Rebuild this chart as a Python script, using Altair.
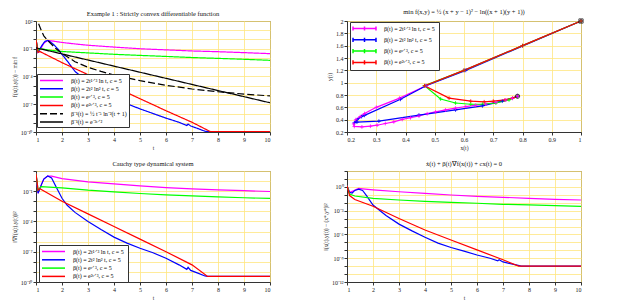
import altair as alt
import pandas as pd

FONT = "Liberation Serif"
GRID = "#ffe680"
FRAME = "#333333"

# ---------------- labels / colours ----------------
BETA_LABELS = [
    "β(t) = 2t¹ᐟ³ ln t,  c = 5",
    "β(t) = 2t² ln² t,  c = 5",
    "β(t) = eᵗᐟ³,  c = 5",
    "β(t) = e²ᵗᐟ³,  c = 5",
]
BETA_COLORS = ["#ff00ff", "#0000ff", "#00ff00", "#ff0000"]
REF_LABELS = ["β⁻¹(t) = ½ t⁻⁵ ln⁻²(t + 1)", "β⁻¹(t) = e⁻³ᵗᐟ²"]
REF_COLORS = ["#000000", "#000000"]

TITLES = [
    "Example 1 :  Strictly convex differentiable function",
    "min f(x,y) = ½ (x + y − 1)² − ln((x + 1)(y + 1))",
    "Cauchy type dynamical system",
    "ẋ(t) + β(t)∇f(x(t)) + cx(t) = 0",
]
YTITLES = ["f(x(t),y(t)) − min f", "y(t)", "‖∇f(x(t),y(t))‖²", "‖(x(t),y(t)) − (x*,y*)‖²"]

T_TICKS = [1, 2, 3, 4, 5, 6, 7, 8, 9, 10]
X2_TICKS = [0.2, 0.3, 0.4, 0.5, 0.6, 0.7, 0.8, 0.9, 1.0]
Y2_TICKS = [0.2, 0.4, 0.6, 0.8, 1.0, 1.2, 1.4, 1.6, 1.8, 2.0]

# ---------------- panel 1 : f - min f (log10 exponents) ----------------
p1_m_t = [1.0, 1.08, 1.2, 1.3, 1.45, 1.6, 2, 2.5, 3, 4, 5, 6, 7, 8, 9, 10]
p1_m_e = [0.0, -1.35, -0.9, -0.4, -0.1, -0.15, -0.32, -0.48, -0.62, -0.82, -1.0, -1.12, -1.24, -1.32, -1.42, -1.53]
p1_b_t = [1.0, 1.08, 1.15, 1.25, 1.35, 1.45, 1.55, 1.7, 1.85, 2, 2.25, 2.5, 3, 3.5, 4, 4.5, 5, 5.5, 6, 6.5, 6.8, 6.85, 6.95, 7.2, 7.5, 7.6, 10]
p1_b_e = [0.0, -1.35, -1.0, -0.55, -0.2, -0.1, -0.25, -0.6, -1.05, -1.6, -2.5, -3.45, -4.6, -5.5, -6.25, -6.95, -7.5, -8.0, -8.5, -8.95, -9.3, -9.15, -9.35, -9.6, -9.92, -9.95, -9.95]
p1_g_t = [1.0, 1.08, 1.1, 1.3, 1.5, 2, 3, 4, 5, 6, 7, 8, 9, 10]
p1_g_e = [0.0, -1.3, -1.0, -1.05, -1.15, -1.3, -1.45, -1.6, -1.72, -1.83, -1.95, -2.04, -2.14, -2.25]
p1_r_t = [1.0, 1.08, 1.15, 2, 3, 4, 5, 6, 7, 7.7, 10]
p1_r_e = [0.0, -1.4, -1.3, -2.5, -3.8, -5.1, -6.4, -7.7, -8.95, -9.95, -9.95]
p1_d_t = [1.1, 1.2, 1.3, 1.45, 1.75, 2, 2.5, 3, 3.5, 4, 5, 6, 7, 8, 9, 10]
p1_d_e = [1.7, 1.0, 0.4, -0.1, -0.95, -1.5, -2.4, -3.0, -3.45, -3.85, -4.45, -4.95, -5.35, -5.65, -5.9, -6.1]
p1_k_t = [1, 2, 3, 4, 5, 6, 7, 8, 9, 10]
p1_k_e = [-0.9, -1.56, -2.22, -2.88, -3.54, -4.2, -4.86, -5.52, -6.18, -6.84]

# ---------------- panel 2 : trajectories (x(t), y(t)) ----------------
p2_m_x = [1.0, 0.8, 0.6, 0.47, 0.38, 0.3, 0.26, 0.245, 0.23, 0.223, 0.225, 0.251, 0.28, 0.303, 0.331, 0.36, 0.389, 0.417, 0.446, 0.474, 0.503, 0.537, 0.571, 0.606, 0.64, 0.674, 0.709, 0.743, 0.766, 0.783]
p2_m_y = [2.0, 1.6, 1.2, 0.95, 0.75, 0.6, 0.5, 0.45, 0.4, 0.33, 0.29, 0.283, 0.294, 0.31, 0.338, 0.365, 0.404, 0.431, 0.459, 0.497, 0.525, 0.558, 0.586, 0.613, 0.635, 0.652, 0.679, 0.718, 0.745, 0.78]
p2_b_x = [1.0, 0.606, 0.47, 0.383, 0.26, 0.25, 0.235, 0.225, 0.234, 0.309, 0.446, 0.571, 0.663, 0.731, 0.783]
p2_b_y = [2.0, 1.2, 0.95, 0.73, 0.47, 0.45, 0.40, 0.35, 0.36, 0.376, 0.475, 0.558, 0.624, 0.70, 0.78]
p2_g_x = [1.0, 0.8, 0.6, 0.465, 0.52, 0.571, 0.623, 0.663, 0.709, 0.754, 0.783]
p2_g_y = [2.0, 1.6, 1.2, 0.95, 0.735, 0.67, 0.65, 0.65, 0.67, 0.72, 0.78]
p2_r_x = [1.0, 0.8, 0.6, 0.465, 0.549, 0.623, 0.669, 0.70, 0.74, 0.766, 0.783]
p2_r_y = [2.0, 1.6, 1.2, 0.95, 0.75, 0.70, 0.69, 0.70, 0.72, 0.75, 0.78]
END_X = [1.0, 0.783]
END_Y = [2.0, 0.78]
END_KIND = ["start", "end"]

# ---------------- panel 3 : |grad f|^2 (log10 exponents) ----------------
p3_m_t = [1.0, 1.08, 1.2, 1.3, 1.45, 1.6, 2, 3, 4, 5, 6, 7, 8, 9, 10]
p3_m_e = [0.75, -1.2, -0.4, 0.2, 0.5, 0.5, 0.25, -0.08, -0.28, -0.48, -0.64, -0.77, -0.87, -0.95, -1.03]
p3_b_t = [1.0, 1.08, 1.2, 1.3, 1.45, 1.6, 1.8, 2, 2.2, 2.5, 3, 3.5, 4, 4.5, 5, 5.5, 6, 6.5, 6.8, 6.85, 6.95, 7.2, 7.5, 7.6, 10]
p3_b_e = [0.75, -1.2, -0.4, 0.2, 0.5, 0.3, -0.7, -1.7, -2.4, -3.1, -4.0, -4.8, -5.55, -6.15, -6.65, -7.1, -7.65, -8.3, -8.75, -8.55, -8.85, -9.1, -9.4, -9.45, -9.45]
p3_g_t = [1.0, 1.08, 1.2, 1.5, 2, 3, 4, 5, 6, 7, 8, 9, 10]
p3_g_e = [0.75, -0.9, -0.55, -0.6, -0.67, -0.9, -1.07, -1.23, -1.36, -1.46, -1.56, -1.65, -1.72]
p3_r_t = [1.0, 1.08, 1.15, 2, 3, 4, 5, 6, 7, 7.6, 10]
p3_r_e = [0.75, -0.9, -0.75, -2.0, -3.25, -4.5, -5.75, -7.0, -8.3, -9.45, -9.45]

# ---------------- panel 4 : distance to minimiser (log10 exponents) ----------------
p4_m_t = [1.0, 1.1, 1.25, 1.45, 1.6, 2, 3, 4, 5, 6, 7, 8, 9, 10]
p4_m_e = [0.15, -0.7, -0.5, -0.2, -0.25, -0.37, -0.62, -0.83, -1.03, -1.2, -1.32, -1.45, -1.57, -1.66]
p4_b_t = [1.0, 1.1, 1.2, 1.3, 1.45, 1.6, 1.75, 2, 2.5, 3, 3.5, 4, 4.5, 5, 5.5, 6, 6.5, 6.8, 6.85, 7, 7.5, 7.7, 10]
p4_b_e = [0.15, -0.7, -0.78, -0.45, -0.28, -0.45, -1.1, -2.3, -3.6, -4.7, -5.55, -6.35, -7.1, -7.65, -8.1, -8.6, -9.0, -9.34, -9.18, -9.47, -9.84, -10.0, -10.0]
p4_g_t = [1.0, 1.1, 1.3, 2, 3, 4, 5, 6, 7, 8, 9, 10]
p4_g_e = [0.15, -0.9, -1.15, -1.45, -1.66, -1.82, -1.95, -2.07, -2.2, -2.28, -2.36, -2.45]
p4_r_t = [1.0, 1.1, 1.3, 2, 3, 4, 5, 6, 7, 7.6, 10]
p4_r_e = [0.15, -1.1, -1.6, -2.45, -4.0, -5.45, -6.7, -7.95, -9.2, -10.0, -10.0]


# ---------------- helpers ----------------
def tframe(ts, exps, name):
    return pd.DataFrame({"t": ts, "v": [10.0 ** e for e in exps], "s": name})


SUP = str.maketrans("-0123456789", "⁻⁰¹²³⁴⁵⁶⁷⁸⁹")


def log_axis(lo, hi, labelled, title):
    vals = [10.0 ** k for k in range(lo, hi + 1)]
    e = "round(log(datum.value) / LN10)"
    parts = [f"{e} == {k} ? '10{str(k).translate(SUP)}'" for k in labelled]
    expr = " : ".join(parts) + " : ''"
    return alt.Axis(values=vals, labelExpr=expr, title=title, labelOverlap=False)


def make_legend(x, y, symbol):
    return alt.Legend(
        title=None, orient="none", legendX=x, legendY=y,
        fillColor="white", strokeColor=FRAME, padding=2,
        labelFont=FONT, labelFontSize=6, labelLimit=300,
        symbolType=symbol, symbolSize=50, symbolStrokeWidth=1.5,
        symbolOffset=8, labelOffset=15, rowPadding=0.3,
    )


LINE_SYM = "M-3.25,0H3.25"
CROSS_LINE_SYM = "M-3.25,0H3.25M-3.25,-0.6V0.6M0,-0.6V0.6M3.25,-0.6V0.6"
CROSS = "M-1,0H1M0,-1V1"

W, H = 234, 111


def time_panel(df, labels, colors, dashes, lo, hi, labelled, title, ytitle, legend):
    enc = dict(
        x=alt.X("t:Q", scale=alt.Scale(domain=[1, 10], nice=False),
                axis=alt.Axis(values=T_TICKS, format="d", title="t", labelOverlap=False)),
        y=alt.Y("v:Q", scale=alt.Scale(type="log", domain=[10.0 ** lo, 10.0 ** hi], nice=False),
                axis=log_axis(lo, hi, labelled, ytitle)),
        color=alt.Color("s:N", scale=alt.Scale(domain=labels, range=colors), legend=legend, sort=labels),
    )
    if dashes is not None:
        enc["strokeDash"] = alt.StrokeDash("s:N", scale=alt.Scale(domain=labels, range=dashes),
                                           legend=legend, sort=labels)
    return alt.Chart(df).mark_line(strokeWidth=1.2, clip=True).encode(**enc).properties(
        width=W, height=H, title=alt.TitleParams(title))


# panel 1
df1 = pd.concat([
    tframe(p1_m_t, p1_m_e, BETA_LABELS[0]),
    tframe(p1_b_t, p1_b_e, BETA_LABELS[1]),
    tframe(p1_g_t, p1_g_e, BETA_LABELS[2]),
    tframe(p1_r_t, p1_r_e, BETA_LABELS[3]),
    tframe(p1_d_t, p1_d_e, REF_LABELS[0]),
    tframe(p1_k_t, p1_k_e, REF_LABELS[1]),
])
labels1 = BETA_LABELS + REF_LABELS
p1 = time_panel(df1, labels1, BETA_COLORS + REF_COLORS,
                [[1, 0], [1, 0], [1, 0], [1, 0], [7, 3], [1, 0]],
                -10, 2, [2, -1, -4, -7, -10], TITLES[0], YTITLES[0],
                make_legend(1, 53, LINE_SYM))

# panel 2
rows = []
for name, xs, ys in [(BETA_LABELS[0], p2_m_x, p2_m_y), (BETA_LABELS[1], p2_b_x, p2_b_y),
                     (BETA_LABELS[2], p2_g_x, p2_g_y), (BETA_LABELS[3], p2_r_x, p2_r_y)]:
    rows.append(pd.DataFrame({"x": xs, "y": ys, "s": name, "k": list(range(len(xs)))}))
df2 = pd.concat(rows)
xenc2 = alt.X("x:Q", scale=alt.Scale(domain=[0.2, 1.0], nice=False),
              axis=alt.Axis(values=X2_TICKS, format="~g", title="x(t)", labelOverlap=False))
yenc2 = alt.Y("y:Q", scale=alt.Scale(domain=[0.2, 2.0], nice=False),
              axis=alt.Axis(values=Y2_TICKS, format="~g", title=YTITLES[1], labelOverlap=False))
traj = alt.Chart(df2).mark_line(
    strokeWidth=1.2,
    point=alt.OverlayMarkDef(shape=CROSS, filled=False, size=14, strokeWidth=0.8),
).encode(
    x=xenc2, y=yenc2,
    color=alt.Color("s:N", scale=alt.Scale(domain=BETA_LABELS, range=BETA_COLORS),
                    legend=make_legend(3, 1, CROSS_LINE_SYM), sort=BETA_LABELS),
    order=alt.Order("k:Q"),
)
df_end = pd.DataFrame({"x": END_X, "y": END_Y, "m": END_KIND})
ends = alt.Chart(df_end).mark_point(color="black", filled=False, size=18, strokeWidth=1).encode(
    x=xenc2, y=yenc2,
    shape=alt.Shape("m:N", scale=alt.Scale(domain=["start", "end"], range=["square", "circle"]), legend=None),
)
p2 = alt.layer(traj, ends).properties(width=W, height=H, title=alt.TitleParams(TITLES[1]))

# panel 3
df3 = pd.concat([
    tframe(p3_m_t, p3_m_e, BETA_LABELS[0]),
    tframe(p3_b_t, p3_b_e, BETA_LABELS[1]),
    tframe(p3_g_t, p3_g_e, BETA_LABELS[2]),
    tframe(p3_r_t, p3_r_e, BETA_LABELS[3]),
])
p3 = time_panel(df3, BETA_LABELS, BETA_COLORS, None, -10, 1, [-1, -4, -7, -10],
                TITLES[2], YTITLES[2], make_legend(3, 74, LINE_SYM))

# panel 4
df4 = pd.concat([
    tframe(p4_m_t, p4_m_e, BETA_LABELS[0]),
    tframe(p4_b_t, p4_b_e, BETA_LABELS[1]),
    tframe(p4_g_t, p4_g_e, BETA_LABELS[2]),
    tframe(p4_r_t, p4_r_e, BETA_LABELS[3]),
])
p4 = time_panel(df4, BETA_LABELS, BETA_COLORS, None, -12, 2, [0, -3, -6, -9, -12],
                TITLES[3], YTITLES[3], None)

chart = alt.concat(
    p1, p2, p3, p4, columns=2,
    spacing=alt.RowColnumber(row=39, column=77), bounds="flush",
).resolve_scale(
    color="independent", strokeDash="independent", shape="independent",
).resolve_legend(color="independent", strokeDash="independent").properties(
    padding={"left": 3, "top": 0, "right": 2, "bottom": 0},
    background="white",
).configure_axis(
    domainColor=FRAME, tickColor=FRAME, tickSize=3, labelPadding=1, labelOverlap=False,
    labelFont=FONT, labelFontSize=6, labelColor="#222",
    titleFont=FONT, titleFontSize=5.5, titleFontWeight="normal", titleColor="#222", titlePadding=3,
    gridColor=GRID, gridWidth=0.8,
).configure_view(stroke=FRAME, strokeWidth=1).configure_title(
    font=FONT, fontSize=6.5, fontWeight="normal", offset=1, color="#111",
).configure_legend(strokeWidth=1)

chart.save("out.html", embed_options={"renderer": "svg", "actions": False})
